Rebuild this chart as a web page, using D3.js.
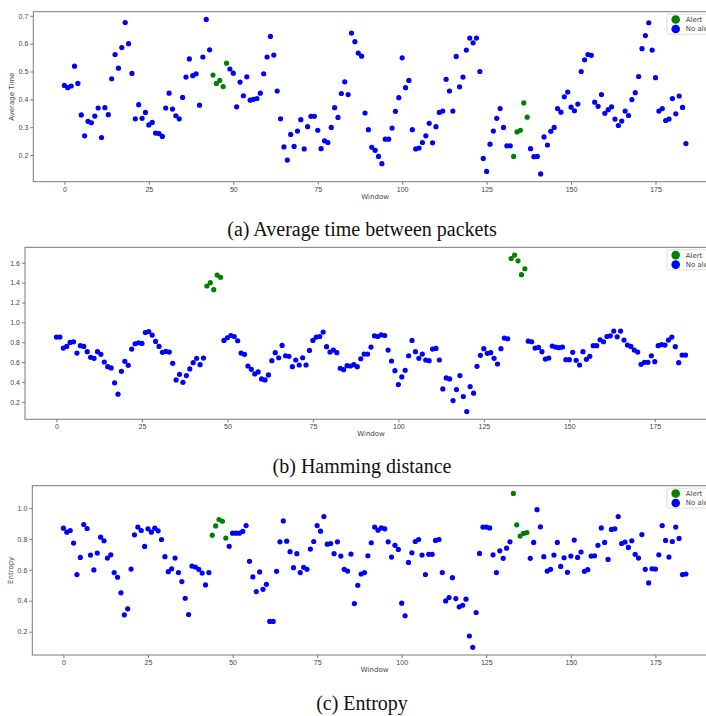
<!DOCTYPE html>
<html>
<head>
<meta charset="utf-8">
<script src="https://cdn.jsdelivr.net/npm/d3@7"></script>
<style>
  body { margin: 0; background: #fff; }
  svg { display: block; }
</style>
</head>
<body>
<script>
// values, one per window (0..184)
const avgTime = [
  0.450, 0.442, 0.448, 0.519, 0.457, 0.344, 0.269, 0.321, 0.316, 0.340,
  0.369, 0.263, 0.370, 0.345, 0.474, 0.561, 0.512, 0.586, 0.676, 0.600,
  0.493, 0.330, 0.381, 0.332, 0.353, 0.308, 0.317, 0.279, 0.277, 0.267,
  0.369, 0.422, 0.365, 0.341, 0.330, 0.407, 0.480, 0.545, 0.485, 0.492,
  0.379, 0.552, 0.687, 0.578, 0.487, 0.457, 0.468, 0.446, 0.530, 0.509,
  0.494, 0.373, 0.462, 0.413, 0.481, 0.397, 0.400, 0.403, 0.422, 0.492,
  0.552, 0.626, 0.559, 0.430, 0.330, 0.229, 0.182, 0.274, 0.231, 0.286,
  0.327, 0.222, 0.302, 0.339, 0.339, 0.289, 0.223, 0.251, 0.245, 0.299,
  0.370, 0.335, 0.421, 0.463, 0.417, 0.638, 0.607, 0.566, 0.555, 0.351,
  0.291, 0.228, 0.217, 0.195, 0.169, 0.257, 0.257, 0.297, 0.357, 0.406,
  0.549, 0.442, 0.468, 0.291, 0.222, 0.225, 0.245, 0.269, 0.314, 0.244,
  0.302, 0.353, 0.358, 0.472, 0.430, 0.358, 0.554, 0.445, 0.480, 0.577,
  0.620, 0.603, 0.620, 0.500, 0.188, 0.141, 0.239, 0.286, 0.332, 0.367,
  0.299, 0.233, 0.233, 0.195, 0.283, 0.289, 0.387, 0.336, 0.223, 0.194,
  0.195, 0.132, 0.265, 0.236, 0.285, 0.299, 0.367, 0.354, 0.409, 0.426,
  0.372, 0.359, 0.383, 0.500, 0.542, 0.561, 0.558, 0.390, 0.375, 0.417,
  0.350, 0.363, 0.373, 0.329, 0.306, 0.322, 0.358, 0.342, 0.399, 0.424,
  0.482, 0.582, 0.629, 0.675, 0.577, 0.478, 0.358, 0.367, 0.324, 0.329,
  0.403, 0.348, 0.412, 0.371, 0.241
];

const hamming = [
  0.852, 0.852, 0.741, 0.758, 0.798, 0.805, 0.691, 0.765, 0.758, 0.705,
  0.648, 0.638, 0.705, 0.678, 0.601, 0.554, 0.541, 0.391, 0.277, 0.507,
  0.608, 0.568, 0.731, 0.785, 0.795, 0.788, 0.898, 0.908, 0.872, 0.808,
  0.758, 0.698, 0.708, 0.701, 0.588, 0.421, 0.477, 0.397, 0.464, 0.531,
  0.594, 0.638, 0.574, 0.641, 1.366, 1.400, 1.329, 1.476, 1.453, 0.818,
  0.845, 0.868, 0.858, 0.815, 0.691, 0.678, 0.561, 0.527, 0.481, 0.501,
  0.431, 0.421, 0.471, 0.614, 0.695, 0.644, 0.768, 0.664, 0.658, 0.554,
  0.621, 0.571, 0.644, 0.571, 0.718, 0.818, 0.852, 0.858, 0.902, 0.755,
  0.701, 0.721, 0.695, 0.538, 0.524, 0.564, 0.561, 0.574, 0.554, 0.634,
  0.681, 0.681, 0.751, 0.865, 0.858, 0.875, 0.868, 0.721, 0.611, 0.514,
  0.374, 0.451, 0.517, 0.664, 0.818, 0.705, 0.638, 0.681, 0.621, 0.614,
  0.731, 0.738, 0.621, 0.330, 0.441, 0.431, 0.213, 0.324, 0.464, 0.254,
  0.103, 0.354, 0.287, 0.558, 0.668, 0.735, 0.688, 0.695, 0.638, 0.581,
  0.735, 0.842, 0.835, 1.643, 1.677, 1.620, 1.480, 1.540, 0.811, 0.805,
  0.741, 0.748, 0.705, 0.631, 0.641, 0.761, 0.751, 0.745, 0.751, 0.624,
  0.624, 0.698, 0.618, 0.571, 0.705, 0.628, 0.658, 0.765, 0.765, 0.825,
  0.805, 0.858, 0.865, 0.912, 0.855, 0.912, 0.822, 0.771, 0.758, 0.721,
  0.701, 0.578, 0.598, 0.598, 0.664, 0.604, 0.765, 0.775, 0.771, 0.822,
  0.852, 0.755, 0.594, 0.671, 0.671
];

const entropy = [
  0.869, 0.843, 0.854, 0.773, 0.569, 0.680, 0.893, 0.867, 0.695, 0.599,
  0.708, 0.811, 0.788, 0.676, 0.697, 0.582, 0.552, 0.451, 0.309, 0.348,
  0.605, 0.826, 0.876, 0.854, 0.751, 0.865, 0.843, 0.869, 0.852, 0.796,
  0.685, 0.588, 0.607, 0.676, 0.582, 0.524, 0.416, 0.311, 0.624, 0.618,
  0.603, 0.579, 0.502, 0.582, 0.824, 0.884, 0.925, 0.914, 0.805, 0.752,
  0.837, 0.837, 0.837, 0.848, 0.886, 0.655, 0.554, 0.459, 0.586, 0.474,
  0.506, 0.266, 0.266, 0.590, 0.781, 0.916, 0.785, 0.717, 0.614, 0.704,
  0.582, 0.616, 0.603, 0.734, 0.783, 0.886, 0.850, 0.944, 0.766, 0.770,
  0.704, 0.781, 0.689, 0.603, 0.592, 0.702, 0.382, 0.500, 0.573, 0.582,
  0.691, 0.775, 0.876, 0.856, 0.871, 0.865, 0.781, 0.682, 0.758, 0.732,
  0.384, 0.303, 0.648, 0.710, 0.783, 0.796, 0.695, 0.569, 0.700, 0.700,
  0.790, 0.796, 0.582, 0.399, 0.421, 0.549, 0.414, 0.361, 0.371, 0.410,
  0.172, 0.099, 0.324, 0.706, 0.876, 0.876, 0.871, 0.697, 0.582, 0.723,
  0.674, 0.740, 0.781, 1.094, 0.891, 0.818, 0.835, 0.841, 0.674, 0.777,
  0.989, 0.878, 0.685, 0.592, 0.603, 0.695, 0.777, 0.622, 0.678, 0.584,
  0.689, 0.792, 0.680, 0.715, 0.590, 0.601, 0.689, 0.691, 0.758, 0.871,
  0.777, 0.667, 0.861, 0.865, 0.944, 0.770, 0.779, 0.745, 0.788, 0.700,
  0.676, 0.828, 0.603, 0.515, 0.607, 0.605, 0.697, 0.886, 0.790, 0.682,
  0.783, 0.876, 0.803, 0.569, 0.573
];

// windows flagged as alerts (green)
const alertWindows = [44, 45, 46, 47, 48, 133, 134, 135, 136, 137];

const xTicks = [0, 25, 50, 75, 100, 125, 150, 175];
const legendLabels = ["Alert", "No alert"];
const legendColors = ["#008000", "#0000ff"];

const panels = [
  { values: avgTime, yLabel: "Average Time", yTicks: [0.2, 0.3, 0.4, 0.5, 0.6, 0.7],
    caption: "(a) Average time between packets",
    left: 33.3, top: 11.7, bottom: 181.7, captionY: 236 },
  { values: hamming, yLabel: null, yTicks: [0.2, 0.4, 0.6, 0.8, 1.0, 1.2, 1.4, 1.6],
    caption: "(b) Hamming distance",
    left: 25, top: 247.3, bottom: 419.3, captionY: 473 },
  { values: entropy, yLabel: "Entropy", yTicks: [0.2, 0.4, 0.6, 0.8, 1.0],
    caption: "(c) Entropy",
    left: 32.3, top: 485.7, bottom: 655, captionY: 710 }
];

const width = 706, height = 716;
const axisRight = 717;   // the original figure is cropped, axes run past the edge
const axisColor = "#7a7a7a";
const tickColor = "#444";

const svg = d3.select("body").append("svg")
  .attr("width", width)
  .attr("height", height)
  .style("font-family", "'DejaVu Sans', sans-serif");

panels.forEach(p => {
  const right = axisRight;
  const n = p.values.length;
  const xPad = (n - 1) * 0.05;
  const x = d3.scaleLinear().domain([-xPad, n - 1 + xPad]).range([p.left, right]);
  const [lo, hi] = d3.extent(p.values);
  const yPad = (hi - lo) * 0.05;
  const y = d3.scaleLinear().domain([lo - yPad, hi + yPad]).range([p.bottom, p.top]);

  const g = svg.append("g");

  // frame
  g.append("rect")
    .attr("x", p.left).attr("y", p.top)
    .attr("width", right - p.left).attr("height", p.bottom - p.top)
    .attr("fill", "none").attr("stroke", axisColor).attr("stroke-width", 1);

  // x axis
  const xAxis = g.append("g")
    .attr("transform", `translate(0,${p.bottom})`)
    .call(d3.axisBottom(x).tickValues(xTicks).tickFormat(d3.format("d")).tickSize(3).tickPadding(2));
  xAxis.select(".domain").remove();

  // y axis
  const yAxis = g.append("g")
    .attr("transform", `translate(${p.left},0)`)
    .call(d3.axisLeft(y).tickValues(p.yTicks).tickFormat(d3.format(".1f")).tickSize(3).tickPadding(2));
  yAxis.select(".domain").remove();

  [xAxis, yAxis].forEach(a => {
    a.selectAll("line").attr("stroke", axisColor);
    a.selectAll("text").attr("fill", tickColor).style("font-size", "7px");
  });

  g.append("text")
    .attr("x", (p.left + right) / 2)
    .attr("y", p.bottom + 17)
    .attr("text-anchor", "middle")
    .attr("fill", tickColor)
    .style("font-size", "7px")
    .text("Window");

  if (p.yLabel) {
    g.append("text")
      .attr("transform", `translate(${p.left - 19},${(p.top + p.bottom) / 2}) rotate(-90)`)
      .attr("text-anchor", "middle")
      .attr("fill", tickColor)
      .style("font-size", "7px")
      .text(p.yLabel);
  }

  // points
  g.append("g")
    .selectAll("circle")
    .data(p.values)
    .join("circle")
    .attr("cx", (d, i) => x(i))
    .attr("cy", d => y(d))
    .attr("r", 2.6)
    .attr("fill", (d, i) => alertWindows.includes(i) ? "#008000" : "#0000ff");

  // legend (cropped by the figure's right edge, as in the original)
  const lx = right - 50, ly = p.top + 2.5;
  const lg = g.append("g");
  lg.append("rect")
    .attr("x", lx).attr("y", ly)
    .attr("width", 47).attr("height", 20)
    .attr("rx", 1.5)
    .attr("fill", "#fff").attr("fill-opacity", 0.8)
    .attr("stroke", "#d6d6d6").attr("stroke-width", 0.8);
  legendLabels.forEach((lab, k) => {
    lg.append("circle")
      .attr("cx", lx + 8.7).attr("cy", ly + 5.3 + k * 9.5)
      .attr("r", 4.3).attr("fill", legendColors[k]);
    lg.append("text")
      .attr("x", lx + 18.7).attr("y", ly + 5.3 + k * 9.5)
      .attr("dy", "0.35em")
      .attr("fill", tickColor)
      .style("font-size", "7px")
      .text(lab);
  });

  // caption
  svg.append("text")
    .attr("x", 362)
    .attr("y", p.captionY)
    .attr("text-anchor", "middle")
    .style("font-family", "'Liberation Serif', 'Times New Roman', serif")
    .style("font-size", "20px")
    .attr("fill", "#111")
    .text(p.caption);
});
</script>
</body>
</html>
